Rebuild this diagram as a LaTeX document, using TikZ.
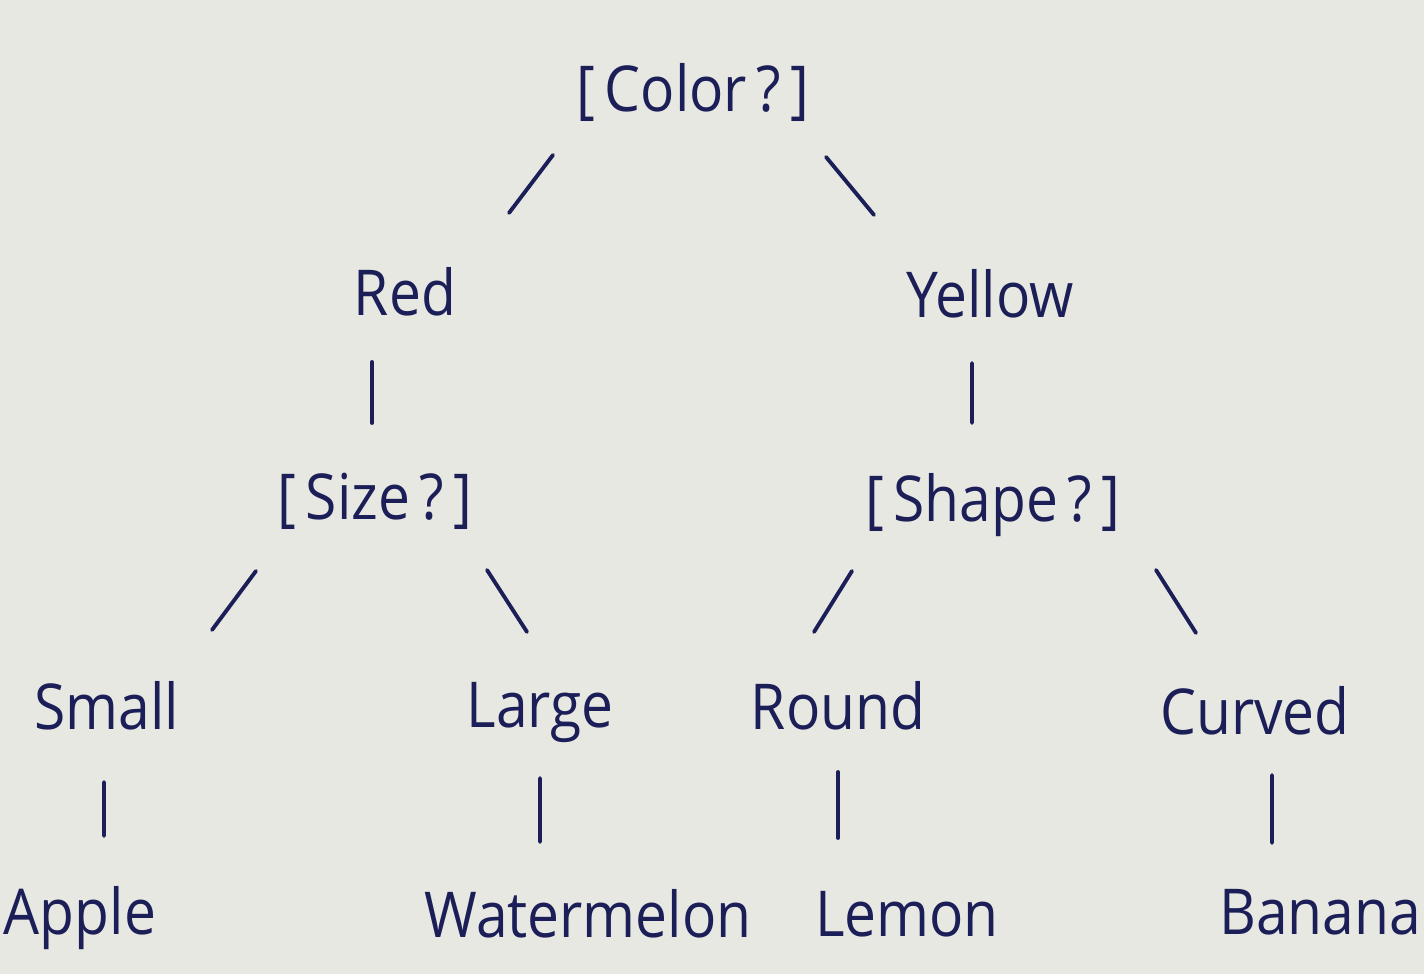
\documentclass[tikz,border=0pt]{standalone}
\usepackage{fontspec}
\setmainfont[FakeStretch=0.9]{Open Sans}
\definecolor{paper}{HTML}{E7E8E2}
\definecolor{ink}{HTML}{1C1E58}
\newcommand{\qgap}{\hspace{0.15em}}
\tikzset{
  label/.style={anchor=base, text=ink, inner sep=0pt, font=\fontsize{18}{20}\selectfont},
  branch/.style={draw=ink, line width=1.1pt, line cap=round}
}
\begin{document}
\begin{tikzpicture}
      \useasboundingbox (0,0) rectangle (14.24,9.74);
      \fill[paper] (0,0) rectangle (14.24,9.74);

      % questions and answers
      \node[label] (color) at (6.93, 8.62) {[\qgap Color\qgap?\qgap]};
      \node[label] (red) at (4.05, 6.58) {Red};
      \node[label] (yellow) at (9.90, 6.56) {Yellow};
      \node[label] (size) at (3.75, 4.54) {[\qgap Size\qgap?\qgap]};
      \node[label] (shape) at (9.93, 4.52) {[\qgap Shape\qgap?\qgap]};
      \node[label] (small) at (1.07, 2.44) {Small};
      \node[label] (large) at (5.40, 2.46) {Large};
      \node[label] (round) at (8.38, 2.44) {Round};
      \node[label] (curved) at (12.55, 2.39) {Curved};
      \node[label] (apple) at (0.80, 0.39) {Apple};
      \node[label] (watermelon) at (5.88, 0.36) {Watermelon};
      \node[label] (lemon) at (9.07, 0.37) {Lemon};
      \node[label] (banana) at (13.20, 0.39) {Banana};

      % branches
      \draw[branch] ([shift={(-1.40,-0.43)}]color.base) -- ([shift={(1.04,1.03)}]red.base);
      \draw[branch] ([shift={(1.33,-0.45)}]color.base) -- ([shift={(-1.16,1.03)}]yellow.base);
      \draw[branch] ([shift={(-0.33,-0.46)}]red.base) -- ([shift={(-0.03,0.97)}]size.base);
      \draw[branch] ([shift={(-0.18,-0.45)}]yellow.base) -- ([shift={(-0.21,0.99)}]shape.base);
      \draw[branch] ([shift={(-1.19,-0.51)}]size.base) -- ([shift={(1.05,1.00)}]small.base);
      \draw[branch] ([shift={(1.12,-0.50)}]size.base) -- ([shift={(-0.13,0.96)}]large.base);
      \draw[branch] ([shift={(-1.41,-0.49)}]shape.base) -- ([shift={(-0.24,0.98)}]round.base);
      \draw[branch] ([shift={(1.63,-0.48)}]shape.base) -- ([shift={(-0.59,1.02)}]curved.base);
      \draw[branch] ([shift={(-0.03,-0.52)}]small.base) -- ([shift={(0.24,0.99)}]apple.base);
      \draw[branch] ([shift={(0,-0.50)}]large.base) -- ([shift={(-0.48,0.96)}]watermelon.base);
      \draw[branch] ([shift={(0,-0.42)}]round.base) -- ([shift={(-0.69,0.99)}]lemon.base);
      \draw[branch] ([shift={(0.17,-0.40)}]curved.base) -- ([shift={(-0.48,0.92)}]banana.base);
    \end{tikzpicture}
\end{document}
